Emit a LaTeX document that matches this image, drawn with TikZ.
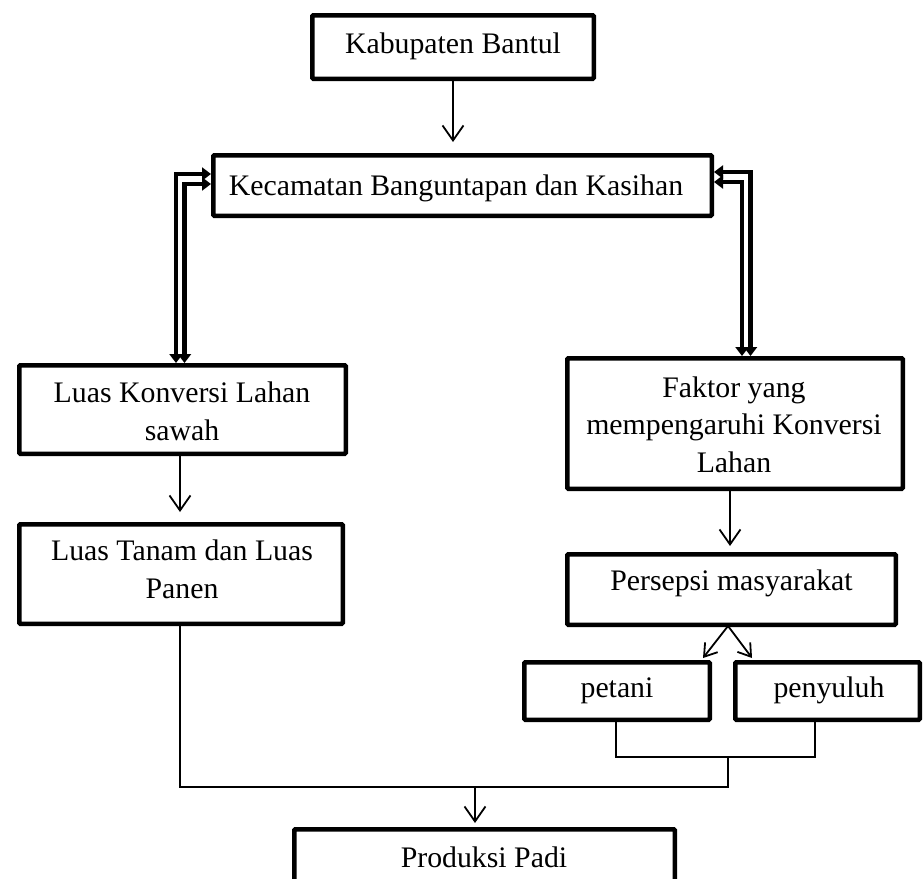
\documentclass[tikz,border=0pt]{standalone}
\usepackage{fontspec}
\setmainfont{Liberation Serif}
\usetikzlibrary{arrows.meta}
\begin{document}
\begin{tikzpicture}[x=1pt,y=-1pt,
  box/.style={draw, line width=4.5pt, rounded corners=1pt, inner sep=0pt},
  lbl/.style={font=\fontsize{29.8}{37.5}\selectfont, align=center, inner sep=0pt, anchor=base},
  arr/.style={line width=1.8pt, -{Straight Barb[length=15pt,width=21pt,line width=1.8pt]}},
  arrs/.style={line width=1.8pt, -{Straight Barb[length=12pt,width=16pt,line width=1.8pt]}},
  dbl/.style={line width=4.3pt, line join=miter,
    {Triangle[length=9pt,width=13pt]}-{Triangle[length=9pt,width=13pt]}},
  link/.style={line width=1.4pt}
]
\useasboundingbox (0,0) rectangle (923,878);

% boxes
\node[box, minimum width=281.5pt, minimum height=63.5pt] (kab) at (453,47) {};
\node[box, minimum width=498.5pt, minimum height=60.5pt] (kec) at (462.5,185.5) {};
\node[box, minimum width=326.5pt, minimum height=88.5pt] (lk) at (182.5,409.5) {};
\node[box, minimum width=323.5pt, minimum height=99.5pt] (lt) at (181,574) {};
\node[box, minimum width=335.5pt, minimum height=130.5pt] (fak) at (735,423.5) {};
\node[box, minimum width=328.5pt, minimum height=70.5pt] (per) at (731.5,589.5) {};
\node[box, minimum width=185.5pt, minimum height=57.5pt] (pet) at (617,691) {};
\node[box, minimum width=184.5pt, minimum height=57.5pt] (pen) at (827.5,691) {};
\node[box, minimum width=380.5pt, minimum height=68.5pt] (prod) at (484.5,863.5) {};

% labels (anchor=base is the baseline of the last line)
\node[lbl] (kabT) at (453,53) {Kabupaten Bantul};
\node[lbl] (kecT) at (456,195) {Kecamatan Banguntapan dan Kasihan};
\node[lbl] (lkT) at (182,440) {Luas Konversi Lahan\\sawah};
\node[lbl] (ltT) at (182,598) {Luas Tanam dan Luas\\Panen};
\node[lbl] (fakT) at (734,472) {Faktor yang\\mempengaruhi Konversi\\Lahan};
\node[lbl] (perT) at (731.5,590) {Persepsi masyarakat};
\node[lbl] (petT) at (617,697) {petani};
\node[lbl] (penT) at (829,697) {penyuluh};
\node[lbl] (prodT) at (484,867) {Produksi Padi};

% helper coordinates
\coordinate (LO) at (176,174);
\coordinate (LI) at (184.5,184);
\coordinate (RO) at (750.5,172);
\coordinate (RI) at (742,182);
\coordinate (FP) at (730,0);
\coordinate (PA) at (728,626);
\coordinate (PL) at (703,658);
\coordinate (PR) at (752,658);
\coordinate (B1) at (616,757);
\coordinate (B2) at (815,757);
\coordinate (J1) at (180,787);
\coordinate (J2) at (728,787);
\coordinate (J3) at (475,787);

% connectors
\draw[arr, shorten >=11pt] (kab.south) -- (kab.south |- kec.north);
\draw[dbl] (LO -| kec.west) -- (LO) -- (LO |- lk.north);
\draw[dbl] (LI -| kec.west) -- (LI) -- (LI |- lk.north);
\draw[dbl] (RO -| kec.east) -- (RO) -- (RO |- fak.north);
\draw[dbl] (RI -| kec.east) -- (RI) -- (RI |- fak.north);
\draw[arr, shorten >=10pt] (lk.south -| J1) -- (J1 |- lt.north);
\draw[arr, shorten >=6pt] (FP |- fak.south) -- (FP |- per.north);
\draw[arrs] (PA) -- (PL);
\draw[arrs] (PA) -- (PR);
\draw[link] (pet.south -| B1) -- (B1) -- (B2) -- (B2 |- pen.south);
\draw[link] (lt.south -| J1) -- (J1) -- (J2) -- (J2 |- B1);
\draw[arr, shorten >=4pt] (J3) -- (J3 |- prod.north);
\end{tikzpicture}
\end{document}
